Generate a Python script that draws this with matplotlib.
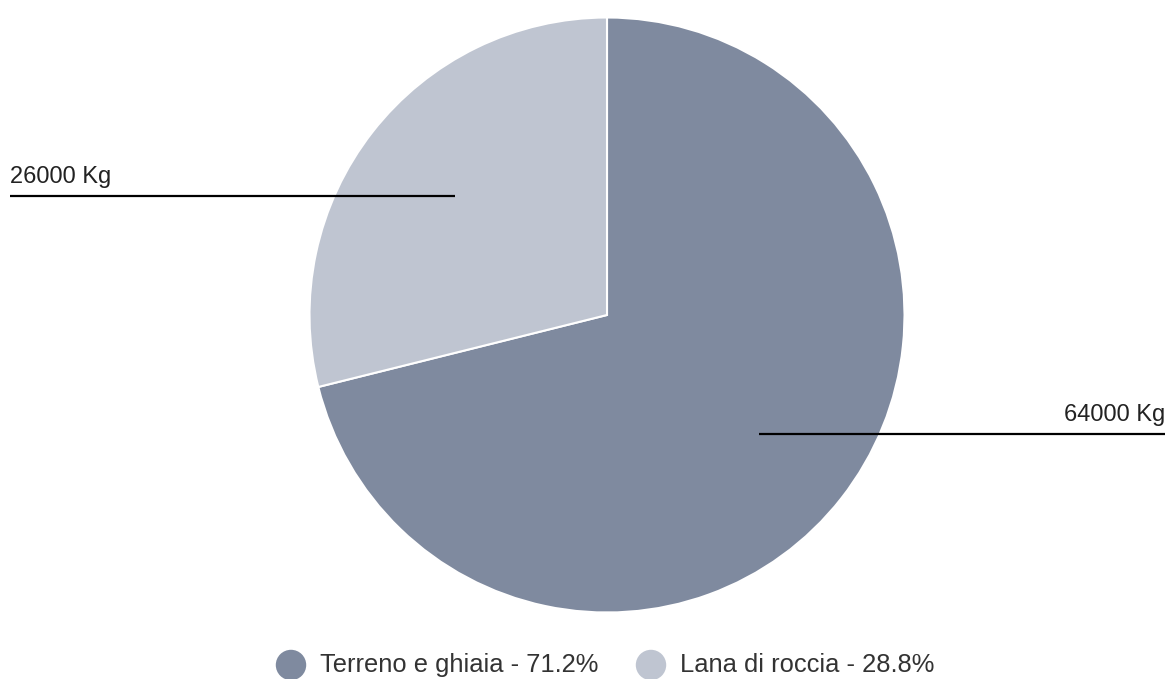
import numpy as np
import matplotlib
matplotlib.use("Agg")
import matplotlib.pyplot as plt

plt.rcParams["font.family"] = ["Liberation Sans", "DejaVu Sans"]

categories = ["Terreno e ghiaia", "Lana di roccia"]
weights_kg = [64000, 26000]
legend_pct = ["71.2%", "28.8%"]
colors = ["#7f8a9f", "#bfc5d1"]

W, H = 1169, 679
fig = plt.figure(figsize=(W / 100, H / 100), dpi=100)
ax = fig.add_axes([0, 0, 1, 1])

cx, cy, r = 607, H - 315, 297.5
wedges, _ = ax.pie(weights_kg, colors=colors, startangle=90, counterclock=False,
                   center=(cx, cy), radius=r, frame=True,
                   wedgeprops=dict(edgecolor="white", linewidth=1.5))
ax.set_xlim(0, W)
ax.set_ylim(0, H)
ax.set_aspect("auto")
ax.axis("off")

# leader lines from inside each slice out to the side labels
for w, val in zip(wedges, weights_kg):
    mid = np.deg2rad((w.theta1 + w.theta2) / 2)
    px = cx + 0.65 * r * np.cos(mid)
    py = cy + 0.65 * r * np.sin(mid)
    if np.cos(mid) < 0:
        ax.plot([10, px], [py, py], color="black", lw=1.6, solid_capstyle="butt")
        ax.text(10, py + 8, f"{val} Kg", ha="left", va="bottom",
                fontsize=17, color="#222222")
    else:
        ax.plot([px, 1165], [py, py], color="black", lw=1.6, solid_capstyle="butt")
        ax.text(1165, py + 8, f"{val} Kg", ha="right", va="bottom",
                fontsize=17, color="#222222")

# legend row under the pie
legend_x = [291, 651]
for x, cat, pct, col in zip(legend_x, categories, legend_pct, colors):
    ax.scatter([x], [H - 665], s=480, color=col, edgecolors="none")
    ax.text(x + 29, H - 665, f"{cat} - {pct}", ha="left", va="center",
            fontsize=18.4, color="#333333")

fig.savefig("out.png", dpi=100)
